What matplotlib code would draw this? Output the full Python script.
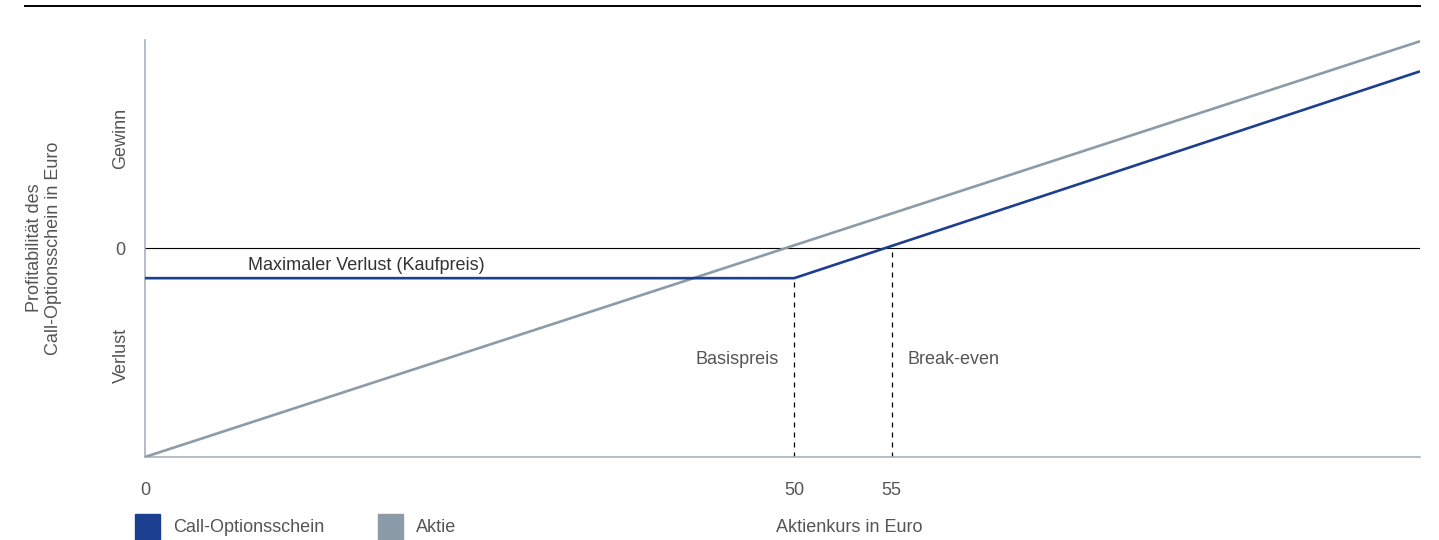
import matplotlib
matplotlib.use("Agg")
import matplotlib.pyplot as plt
from matplotlib.patches import Rectangle

plt.rcParams['font.family'] = ['Liberation Sans', 'DejaVu Sans']

# schematic values (x: Aktienkurs, y: Gewinn/Verlust)
stock_x = [0, 98.2]
stock_y = [-50, 49.5]
option_x = [0, 50, 98.2]
option_y = [-7.2, -7.2, 42.3]
strike = 50
strike_y = -7.2
breakeven = 57.5
xtick_pos = [0, 50, 57.5]
xtick_labels = ['0', '50', '55']
series_names = ['Call-Optionsschein', 'Aktie']

blue = '#1c3f8f'
grey = '#8c9ba8'
axis_col = '#a8b3be'
text_col = '#555555'

W, H = 1439, 540
fig = plt.figure(figsize=(W / 100, H / 100), dpi=100)
ax = fig.add_axes([145 / W, (H - 457) / H, 1275 / W, (457 - 40) / H])
ax.set_xlim(0, 98.2)
ax.set_ylim(-50, 49.8)

# linien
ax.plot(stock_x, stock_y, color=grey, lw=1.9, solid_capstyle='butt', zorder=3)
ax.plot(option_x, option_y, color=blue, lw=1.9, solid_capstyle='butt', zorder=4)
ax.axhline(0, color='black', lw=0.8, zorder=2)
ax.plot([strike, strike], [-50, strike_y], color='black', lw=0.9, ls=(0, (4, 4)), zorder=1)
ax.plot([breakeven, breakeven], [-50, 0], color='black', lw=0.9, ls=(0, (4, 4)), zorder=1)

for s in ['top', 'right']:
    ax.spines[s].set_visible(False)
for s in ['left', 'bottom']:
    ax.spines[s].set_color(axis_col)
    ax.spines[s].set_linewidth(1.2)

ax.set_xticks(xtick_pos)
ax.set_xticklabels(xtick_labels)
ax.set_yticks([0])
ax.set_yticklabels(['0'])
ax.tick_params(length=0, labelsize=13, colors=text_col)
ax.tick_params(axis='x', pad=18)
ax.tick_params(axis='y', pad=14)

# beschriftungen im plot
ax.text(7.9, -4.1, 'Maximaler Verlust (Kaufpreis)', fontsize=13, color='#333333', va='center', ha='left')
ax.text(48.8, -26.6, 'Basispreis', fontsize=13, color=text_col, va='center', ha='right')
ax.text(58.7, -26.6, 'Break-even', fontsize=13, color=text_col, va='center', ha='left')

# y-achse texte
fig.text(121 / W, 1 - 138 / H, 'Gewinn', rotation=90, fontsize=13, color=text_col, ha='center', va='center')
fig.text(121 / W, 1 - 355 / H, 'Verlust', rotation=90, fontsize=13, color=text_col, ha='center', va='center')
fig.text(44 / W, 1 - 248 / H, 'Profitabilität des\nCall-Optionsschein in Euro', rotation=90,
         fontsize=13, color=text_col, ha='center', va='center', multialignment='center', linespacing=1.15)

# x-achse titel
fig.text(849 / W, 1 - 527 / H, 'Aktienkurs in Euro', fontsize=13, color=text_col, ha='center', va='center')

# legende
for (x0, col, name) in [(135, blue, series_names[0]), (378, grey, series_names[1])]:
    fig.patches.append(Rectangle((x0 / W, 1 - 541 / H), 25 / W, 27 / H,
                                 transform=fig.transFigure, color=col, zorder=5))
    fig.text((x0 + 38) / W, 1 - 527 / H, name, fontsize=13, color=text_col, ha='left', va='center')

# obere linie
fig.add_artist(plt.Line2D([25 / W, 1420 / W], [1 - 6 / H, 1 - 6 / H], color='black', lw=1.4,
                          transform=fig.transFigure))

fig.savefig('out.png', dpi=100)
